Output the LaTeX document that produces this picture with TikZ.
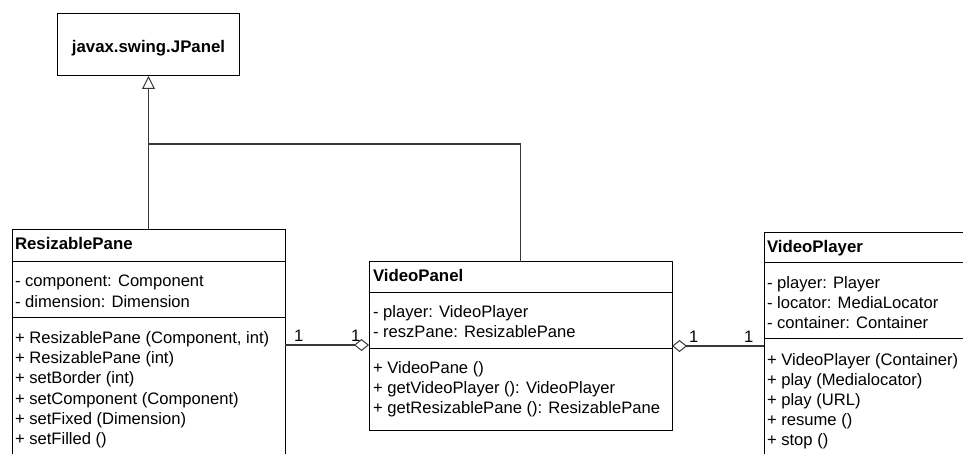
\documentclass[tikz,border=0pt]{standalone}
\usepackage{fontspec}
\setmainfont{Liberation Sans}
\usetikzlibrary{arrows.meta}
\begin{document}
\begin{tikzpicture}[x=1pt,y=-1pt,
  every node/.style={inner sep=0pt, outer sep=0pt},
  classbox/.style={draw=black, line width=1pt, fill=white, rectangle, anchor=north west},
  sep/.style={draw=black, line width=1pt},
  txt/.style={anchor=base west, font=\fontsize{16.6}{20}\selectfont},
  title/.style={anchor=base west, font=\fontsize{16.8}{20}\selectfont\bfseries},
  link/.style={draw=black!78, line width=1.3pt},
  gen/.style={link, -{Triangle[open, length=13pt, width=13pt, line width=1pt]}},
  agg/.style={link, {Diamond[open, length=15pt, width=12pt, line width=1pt]}-}]

\clip (0,0) rectangle (963,454);
\fill[white] (0,0) rectangle (963,454);

% superclass
\node[classbox, minimum width=182pt, minimum height=62pt] (jpanel) at (57.5,14) {};
\node[title, anchor=base] (jpanelname) at (148.5,53) {javax.swing.JPanel};

% ResizablePane
\node[classbox, minimum width=273pt, minimum height=240pt] (rp) at (12,230) {};
\draw[sep] (12,262) -- (285,262);
\draw[sep] (12,317) -- (285,317);
\node[title] (rpname) at (15,250) {ResizablePane};
\node[txt] (rpa1) at (15,287) {- component: Component};
\node[txt] (rpa2) at (15,307) {- dimension: Dimension};
\node[txt] (rpm1) at (15,343) {+ ResizablePane (Component, int)};
\node[txt] (rpm2) at (15,363) {+ ResizablePane (int)};
\node[txt] (rpm3) at (15,383) {+ setBorder (int)};
\node[txt] (rpm4) at (15,404) {+ setComponent (Component)};
\node[txt] (rpm5) at (15,424) {+ setFixed (Dimension)};
\node[txt] (rpm6) at (15,444) {+ setFilled ()};

% VideoPanel
\node[classbox, minimum width=303pt, minimum height=168pt] (vpn) at (369,262) {};
\draw[sep] (369,292) -- (672,292);
\draw[sep] (369,348) -- (672,348);
\node[title] (vpnname) at (373,281) {VideoPanel};
\node[txt] (vpna1) at (373,317) {- player: VideoPlayer};
\node[txt] (vpna2) at (373,337) {- reszPane: ResizablePane};
\node[txt] (vpnm1) at (373,373) {+ VideoPane ()};
\node[txt] (vpnm2) at (373,393) {+ getVideoPlayer (): VideoPlayer};
\node[txt] (vpnm3) at (373,413) {+ getResizablePane (): ResizablePane};

% VideoPlayer
\node[classbox, minimum width=210pt, minimum height=240pt] (vpl) at (764,233) {};
\draw[sep] (764,263) -- (974,263);
\draw[sep] (764,338) -- (974,338);
\node[title] (vplname) at (767,252) {VideoPlayer};
\node[txt] (vpla1) at (767,288) {- player: Player};
\node[txt] (vpla2) at (767,308) {- locator: MediaLocator};
\node[txt] (vpla3) at (767,328) {- container: Container};
\node[txt] (vplm1) at (767,365) {+ VideoPlayer (Container)};
\node[txt] (vplm2) at (767,385) {+ play (Medialocator)};
\node[txt] (vplm3) at (767,405) {+ play (URL)};
\node[txt] (vplm4) at (767,425) {+ resume ()};
\node[txt] (vplm5) at (767,445) {+ stop ()};

% generalisation
\coordinate (join) at (148.5,144);
\draw[gen] (rp.north) -- (jpanel.south);
\draw[link] (vpn.north) |- (join);

% aggregations
\coordinate (rpR) at (285,345);
\coordinate (vpnL) at (369,345);
\coordinate (vpnR) at (672,346);
\coordinate (vplL) at (764,346);
\draw[agg] (vpnL) -- (rpR);
\draw[agg] (vpnR) -- (vplL);
\node[txt] (m1) at (294,341) {1};
\node[txt] (m2) at (351,341) {1};
\node[txt] (m3) at (689,342) {1};
\node[txt] (m4) at (744,342) {1};
\end{tikzpicture}
\end{document}
